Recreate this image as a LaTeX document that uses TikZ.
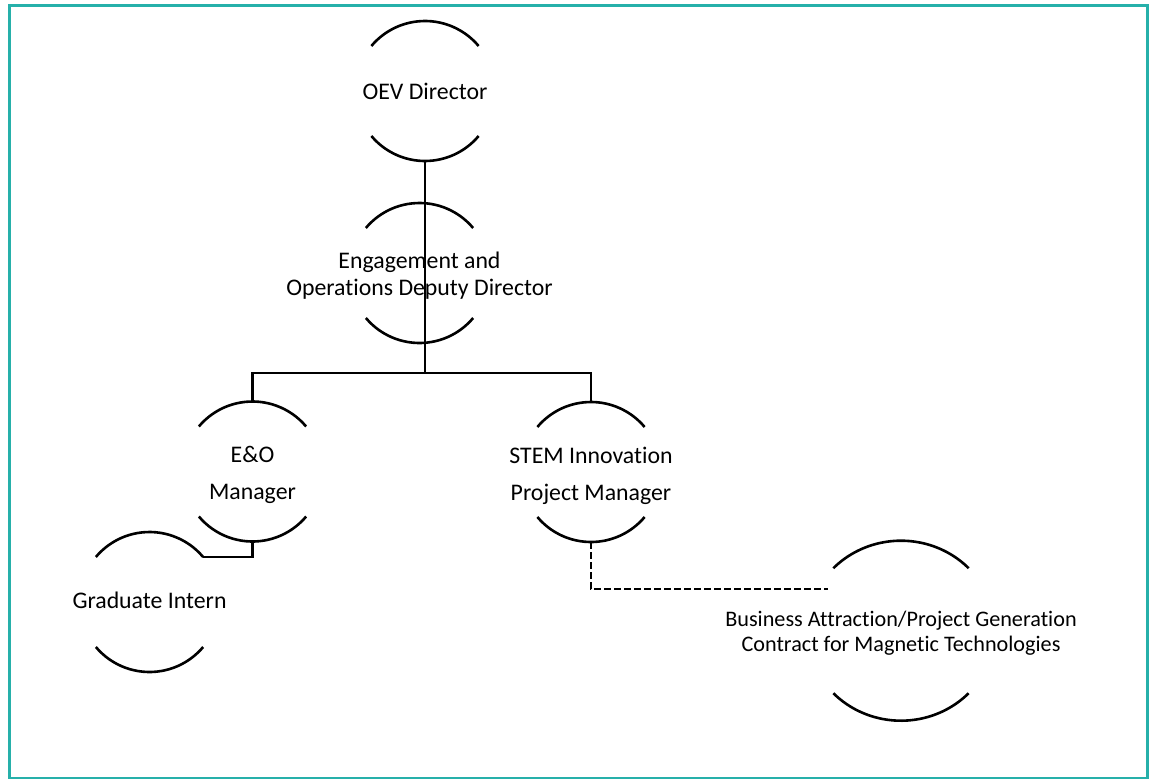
\documentclass[tikz,border=0pt]{standalone}
\usepackage{fontspec}
\setmainfont{Carlito}[Ligatures={NoCommon}]
\usetikzlibrary{shapes.geometric}
\definecolor{frameteal}{RGB}{38,176,170}
\tikzset{
  holder/.style={circle, minimum size=140pt, inner sep=0pt, outer sep=0pt},
  lbl/.style={align=center, inner sep=0pt, font=\fontsize{23.8}{27}\selectfont},
  arcline/.style={line width=2.6pt, black},
  link/.style={line width=2.6pt, black},
  dotlink/.style={line width=2.6pt, black, dash pattern=on 7pt off 3pt},
}
\newcommand{\orgarcs}[4]{%
  \draw[arcline] (#1.center) ++(#4:#2 and #3) arc[start angle=#4, end angle=180-#4, x radius=#2, y radius=#3];
  \draw[arcline] (#1.center) ++(180+#4:#2 and #3) arc[start angle=180+#4, end angle=360-#4, x radius=#2, y radius=#3];
}
\begin{document}
\begin{tikzpicture}[x=1pt,y=1pt]
\useasboundingbox (0,0) rectangle (1149,-779);
\draw[frameteal, line width=3pt] (9.5,-5) rectangle (1147,-778.5);

% nodes (shape holders)
\node[holder] (oev)  at (425,-91) {};
\node[holder] (eng)  at (419.5,-273) {};
\node[holder] (eo)   at (252.5,-471.5) {};
\node[holder] (stem) at (591,-472) {};
\node[holder] (grad) at (149.5,-602) {};
\node[ellipse, minimum width=188pt, minimum height=180pt, inner sep=0pt, outer sep=0pt] (bus) at (901,-630.7) {};

% arcs
\orgarcs{oev}{70}{70}{40}
\orgarcs{eng}{70}{70}{40}
\orgarcs{eo}{70}{70}{40}
\orgarcs{stem}{70}{70}{40}
\orgarcs{grad}{70}{70}{40}
\orgarcs{bus}{94}{90}{44}

% labels
\node[lbl] (oevt) at (oev) {OEV Director};
\node[lbl, yshift=-2.5pt] (engt) at (eng) {Engagement and\\Operations Deputy Director};
\node[lbl, yshift=-3.5pt, font=\fontsize{23.8}{37}\selectfont] (eot) at (eo) {E\&O\\Manager};
\node[lbl, yshift=-3.5pt, font=\fontsize{23.8}{37}\selectfont] (stemt) at (stem) {STEM Innovation\\Project Manager};
\node[lbl, yshift=1.5pt] (gradt) at (grad) {Graduate Intern};
\node[lbl, yshift=-2pt, font=\fontsize{22.2}{25}\selectfont] (bust) at (bus) {Business Attraction/Project Generation\\Contract for Magnetic Technologies};

% connectors
\coordinate (junc) at (425,-373);
\coordinate (dend) at (828,-589);
\draw[link] (oev.south) -- (junc);
\draw[link] (junc) -| (eo.north);
\draw[link] (junc) -| (stem.north);
\draw[link] (eo.south) |- (grad.40);
\draw[dotlink] (stem.south) |- (dend);
\end{tikzpicture}
\end{document}
